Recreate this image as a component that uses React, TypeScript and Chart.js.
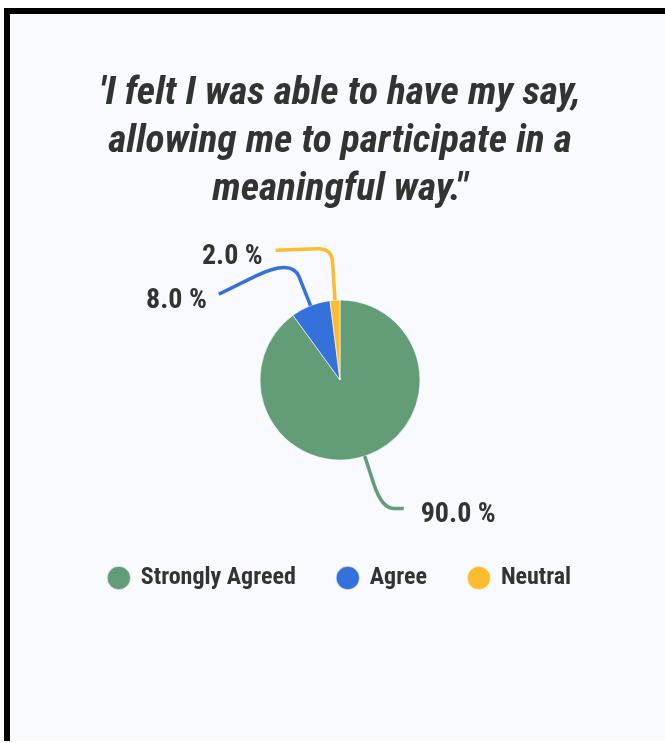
import React, { useEffect, useRef } from 'react';
import { Chart, registerables } from 'chart.js';

Chart.register(...registerables);

const titleLines = ["'I felt I was able to have my say,", 'allowing me to participate in a', 'meaningful way."'];
const categories = ['Strongly Agreed', 'Agree', 'Neutral'];
const values = [90, 8, 2];
const colors = ['#629d77', '#3471db', '#fbbd2f'];

const FAMILY = "'Roboto Condensed', 'Roboto', sans-serif";
const BG = '#f8faff';
const TEXT = '#333333';

// leader-line styling per slice: extra length beyond the rim, end offset, corner rounding
const lineLen = [55, 51, 52];
const lineEnd = [[22, 0], [-73, 36], [-56, 2]];
const cornerIn = [26, 20, 14];
const cornerOut = [12, 41, 14];
const labelGap = [17, 12, 13];

const leaderPlugin = {
  id: 'leaderLabels',
  afterDatasetsDraw(chart: any) {
    const ctx = chart.ctx;
    const meta = chart.getDatasetMeta(0);
    const data = chart.data.datasets[0].data as number[];
    const total = data.reduce((a, b) => a + b, 0);
    meta.data.forEach((arc: any, i: number) => {
      const { x, y, startAngle, endAngle, outerRadius } = arc.getProps(
        ['x', 'y', 'startAngle', 'endAngle', 'outerRadius'],
        true
      );
      const mid = (startAngle + endAngle) / 2;
      const c = Math.cos(mid);
      const s = Math.sin(mid);
      const p0 = { x: x + c * outerRadius, y: y + s * outerRadius };
      const r1 = outerRadius + lineLen[i];
      const p1 = { x: x + c * r1, y: y + s * r1 };
      const p2 = { x: p1.x + lineEnd[i][0], y: p1.y + lineEnd[i][1] };
      const d1 = Math.hypot(p0.x - p1.x, p0.y - p1.y);
      const d2 = Math.hypot(p2.x - p1.x, p2.y - p1.y);
      const a = {
        x: p1.x + ((p0.x - p1.x) / d1) * cornerIn[i],
        y: p1.y + ((p0.y - p1.y) / d1) * cornerIn[i],
      };
      const b = {
        x: p1.x + ((p2.x - p1.x) / d2) * cornerOut[i],
        y: p1.y + ((p2.y - p1.y) / d2) * cornerOut[i],
      };
      ctx.save();
      ctx.strokeStyle = colors[i];
      ctx.lineWidth = 3.5;
      ctx.lineJoin = 'round';
      ctx.beginPath();
      ctx.moveTo(p0.x, p0.y);
      ctx.lineTo(a.x, a.y);
      ctx.quadraticCurveTo(p1.x, p1.y, b.x, b.y);
      ctx.lineTo(p2.x, p2.y);
      ctx.stroke();
      const right = p2.x >= x;
      ctx.font = `bold 28px ${FAMILY}`;
      ctx.fillStyle = TEXT;
      ctx.textAlign = right ? 'left' : 'right';
      ctx.textBaseline = 'middle';
      const text = ((data[i] / total) * 100).toFixed(1) + ' %';
      ctx.fillText(text, p2.x + (right ? labelGap[i] : -labelGap[i]), p2.y + 6.5);
      ctx.restore();
    });
  },
};

export default function App() {
  const ref = useRef<HTMLCanvasElement | null>(null);
  useEffect(() => {
    document.body.style.overflow = 'hidden';
    const chart = new Chart(ref.current as HTMLCanvasElement, {
      type: 'pie',
      data: {
        labels: categories,
        datasets: [
          {
            data: values,
            backgroundColor: colors,
            borderColor: 'rgba(255,255,255,0.6)',
            borderWidth: 1,
            radius: 80,
          } as any,
        ],
      },
      options: {
        responsive: false,
        animation: false,
        devicePixelRatio: 1,
        layout: { padding: { top: 0, bottom: 141, left: 0, right: 0 } },
        plugins: {
          title: {
            display: true,
            text: titleLines,
            color: TEXT,
            font: { family: FAMILY, size: 39.5, weight: 'bold', style: 'italic', lineHeight: 48 / 39.5 },
            padding: { top: 56.3, bottom: 21.7 },
          },
          legend: {
            position: 'bottom',
            labels: {
              usePointStyle: true,
              pointStyle: 'circle',
              boxWidth: 20,
              boxHeight: 16.5,
              padding: 42,
              color: TEXT,
              font: { family: FAMILY, size: 24, weight: 'bold' },
            },
          },
          tooltip: { enabled: false },
        },
      } as any,
      plugins: [leaderPlugin],
    });
    return () => chart.destroy();
  }, []);

  return (
    <div
      style={{
        position: 'fixed',
        left: 4,
        top: 8,
        width: 680,
        height: 727,
        borderLeft: '6px solid #000',
        borderTop: '6px solid #000',
        background: BG,
        overflow: 'hidden',
      }}
    >
      <canvas ref={ref} width={660} height={727} style={{ display: 'block', width: 660, height: 727 }} />
    </div>
  );
}
